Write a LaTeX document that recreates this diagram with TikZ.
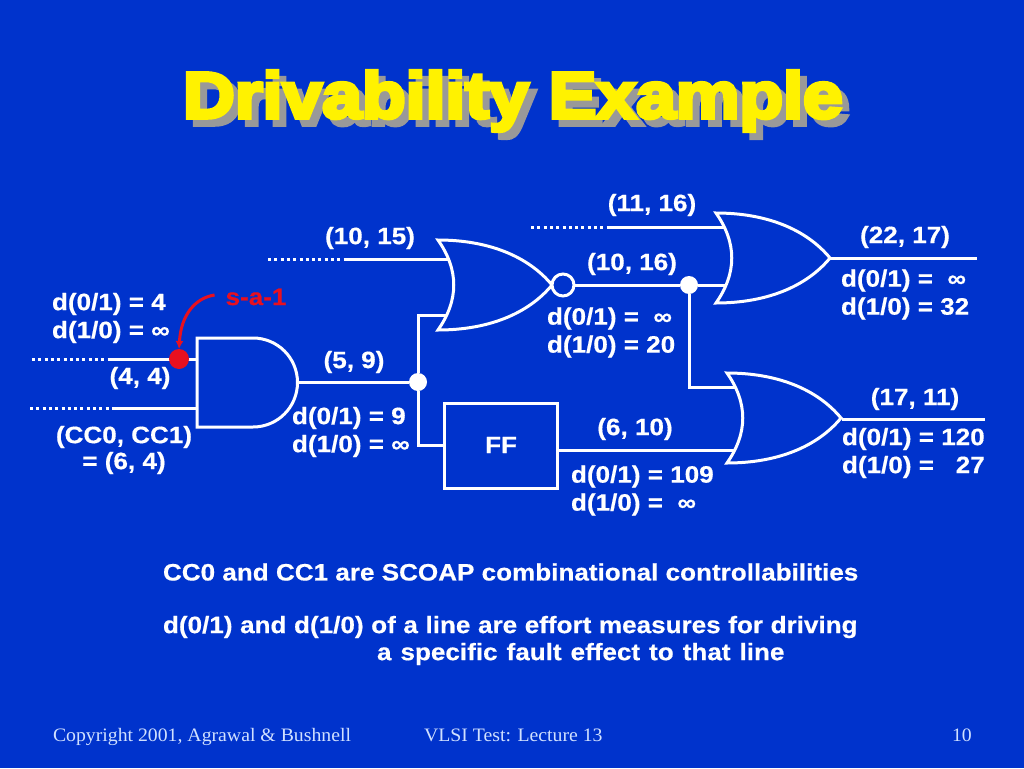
\documentclass[tikz,border=0pt]{standalone}
\usepackage{fontspec}
\setmainfont[FakeStretch=1.1,BoldFeatures={FakeBold=0.5}]{Liberation Sans}
\newfontfamily\titlefont[FakeStretch=1.1,BoldFeatures={FakeBold=6}]{Liberation Sans}
\newfontfamily\footfont[FakeStretch=1.04]{Liberation Serif}
\usetikzlibrary{arrows.meta}
\definecolor{slideblue}{HTML}{0033CC}
\definecolor{shadowgray}{HTML}{999999}
\definecolor{faultred}{HTML}{E8101F}
\definecolor{footblue}{HTML}{D0E0FF}
\begin{document}
\begin{tikzpicture}[x=1pt,y=-1pt,inner sep=0pt,outer sep=0pt,line width=3pt,white,
txt/.style={font=\fontsize{23.7}{28}\selectfont\bfseries,text=white,align=left},
cost/.style={txt,anchor=west},
ctr/.style={txt,align=center},
foot/.style={font=\footfont\fontsize{19}{22}\selectfont,text=footblue,anchor=base west},
wire/.style={draw=white,line width=3pt},
stub/.style={draw=white,line width=3pt,dash pattern=on 3pt off 3.3pt},
junct/.style={draw=none,fill=white,circle,minimum size=18pt},
orgate/.pic={
  \draw[fill=slideblue,miter limit=6] (0,0) .. controls (50,0) and (90,16) .. (114,45)
    .. controls (90,74) and (50,90) .. (0,90) .. controls (21,60) and (21,30) .. (0,0) -- cycle;
}]

\fill[slideblue] (0,0) rectangle (1024,768);
\useasboundingbox (0,0) rectangle (1024,768);

% title with its shadow
\node[text=shadowgray,font=\titlefont\fontsize{65}{70}\selectfont\bfseries] (titleshadow) at (520,108) {Drivability Example};
\node[text=yellow,font=\titlefont\fontsize{65}{70}\selectfont\bfseries] (title) at (513,101) {Drivability Example};

% free ends and gate pins
\coordinate (s1a) at (32,359);
\coordinate (s1b) at (110,359);
\coordinate (s2a) at (30,408);
\coordinate (s2b) at (113,408);
\coordinate (s3a) at (268,259);
\coordinate (s3b) at (344,259);
\coordinate (s4a) at (531,227);
\coordinate (s4b) at (607,227);
\coordinate (andA) at (197,359);
\coordinate (andB) at (197,408);
\coordinate (andY) at (298,382);
\coordinate (norA) at (450,259);
\coordinate (norB) at (450,315);
\coordinate (orA) at (726,227);
\coordinate (orB) at (726,285);
\coordinate (orY) at (830,258);
\coordinate (orZ) at (977,258);
\coordinate (or2A) at (737,387);
\coordinate (or2B) at (737,450);
\coordinate (or2Y) at (842,419);
\coordinate (or2Z) at (985,419);

\node[junct] (j1) at (418,382) {};
\node[junct] (j2) at (689,285) {};
\node[draw=white,line width=3pt,minimum width=113pt,minimum height=85pt] (ff) at (501,445.5) {};
\node[ctr] (fflabel) at (501,445) {FF};

\draw[stub] (s1a) -- (s1b);
\draw[stub] (s2a) -- (s2b);
\draw[stub] (s3a) -- (s3b);
\draw[stub] (s4a) -- (s4b);
\draw[wire] (s1b) -- (andA);
\draw[wire] (s2b) -- (andB);
\draw[wire] (s3b) -- (norA);
\draw[wire] (s4b) -- (orA);
\draw[wire] (andY) -- (j1);
\draw[wire] (j1) |- (norB);
\draw[wire] (j1) |- (ff.west);
\draw[wire] (j2) -- (orB);
\draw[wire] (j2) |- (or2A);
\draw[wire] (ff.east |- or2B) -- (or2B);
\draw[wire] (orY) -- (orZ);
\draw[wire] (or2Y) -- (or2Z);

% gates
\draw[fill=slideblue] (197,338) -- (253,338) arc[start angle=-90,end angle=90,radius=44.5,y=-1pt,x=1pt] -- (197,427) -- cycle;
\pic at (438,240) {orgate};
\pic at (716,213) {orgate};
\pic at (727,373) {orgate};
\node[draw=white,line width=3pt,fill=slideblue,circle,minimum size=22pt] (bubble) at (563,285) {};
\draw[wire] (bubble) -- (j2);

% fault site
\node[draw=none,fill=faultred,circle,minimum size=20pt] (fault) at (179,359) {};
\node[txt,text=faultred] (sa1) at (256,297) {s-a-1};
\draw[-{Latex[length=8pt,width=8pt]},faultred,line width=3pt] (sa1.west) ++(-11,-2) .. controls (195,298) and (181,315) .. (fault.north);

% line values
\node[ctr] (v44) at (140,378) {(4, 4)};
\node[ctr,font=\fontsize{23.7}{26}\selectfont\bfseries] (vcc) at (124,450) {(CC0, CC1)\\= (6, 4)};
\node[ctr] (v59) at (354,362) {(5, 9)};
\node[ctr] (v1015) at (370,238) {(10, 15)};
\node[ctr] (v1116) at (652,205) {(11, 16)};
\node[ctr] (v1016) at (632,264) {(10, 16)};
\node[ctr] (v2217) at (905,237) {(22, 17)};
\node[ctr] (v1711) at (915,399) {(17, 11)};
\node[ctr] (v610) at (635,429) {(6, 10)};

% driving costs
\node[cost] (d1) at (52,318) {d(0/1) = 4\\d(1/0) = ∞};
\node[cost] (d2) at (292,432) {d(0/1) = 9\\d(1/0) = ∞};
\node[cost] (d3) at (547,332.5) {d(0/1) =\ \ ∞\\d(1/0) = 20};
\node[cost] (d4) at (841,294.5) {d(0/1) =\ \ ∞\\d(1/0) = 32};
\node[cost] (d5) at (571,490.5) {d(0/1) = 109\\d(1/0) =\ \ ∞};
\node[cost] (d6) at (842,453) {d(0/1) = 120\\d(1/0) =\ \ \ 27};

% notes
\node[cost] (note1) at (163,572) {CC0 and CC1 are SCOAP combinational controllabilities};
\node[cost] (note2) at (163,627) {\spaceskip=7.6pt d(0/1) and d(1/0) of a line are effort measures for driving};
\node[cost] (note3) at (377,654) {\spaceskip=9pt a specific fault effect to that line};

% footer
\node[foot] (foot1) at (53,741) {Copyright 2001, Agrawal \& Bushnell};
\node[foot] (foot2) at (424,741) {VLSI Test: Lecture 13};
\node[foot] (foot3) at (952,741) {10};
\end{tikzpicture}
\end{document}
